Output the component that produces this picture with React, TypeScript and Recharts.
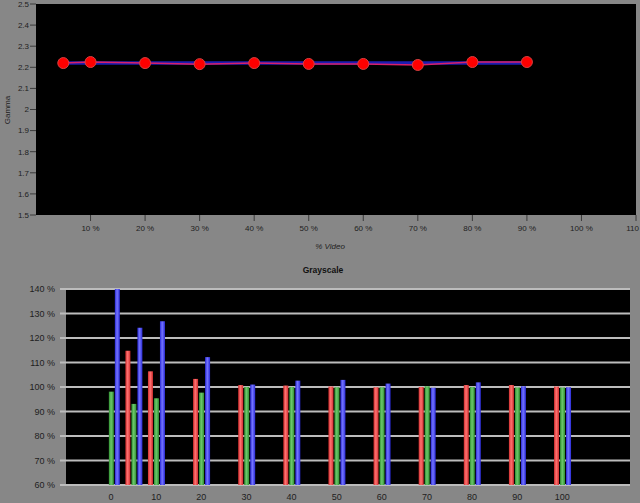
import { LineChart, Line, BarChart, Bar, XAxis, YAxis, CartesianGrid } from "recharts";

// gamma chart
const gammaX = [5, 10, 20, 30, 40, 50, 60, 70, 80, 90];
const gammaMeasured = [2.22, 2.225, 2.22, 2.215, 2.22, 2.216, 2.216, 2.211, 2.225, 2.225];
const gammaTarget = [2.22, 2.22, 2.22, 2.22, 2.22, 2.22, 2.22, 2.22, 2.22, 2.22];
const gammaTicksY = [1.5, 1.6, 1.7, 1.8, 1.9, 2, 2.1, 2.2, 2.3, 2.4, 2.5];
const videoTicks = [10, 20, 30, 40, 50, 60, 70, 80, 90, 100, 110];

// grayscale chart
const grayLevels = [0, 5, 10, 20, 30, 40, 50, 60, 70, 80, 90, 100];
const redPct = [null, 114.8, 106.4, 103.3, 100.8, 100.6, 100.2, 99.9, 100.0, 100.8, 100.8, 100.2];
const greenPct = [98.1, 93.1, 95.4, 97.7, 100.0, 100.0, 99.9, 99.9, 100.3, 100.0, 99.8, 99.8];
const bluePct = [140, 124.2, 126.8, 112.2, 101.0, 102.6, 102.9, 101.4, 99.7, 101.9, 100.3, 99.9];
const grayTicksX = [0, 10, 20, 30, 40, 50, 60, 70, 80, 90, 100];
const grayTicksY = [60, 70, 80, 90, 100, 110, 120, 130, 140];

const FONT = "'Liberation Sans', 'DejaVu Sans', sans-serif";
const BG = "#878787";

const gammaData = gammaX.map((x, i) => ({ x, measured: gammaMeasured[i], target: gammaTarget[i] }));
const grayData = grayLevels.map((x, i) => ({ x, r: redPct[i], g: greenPct[i], b: bluePct[i] }));

// last label sits on the right edge, keep it inside the page
function VideoTick(props: any) {
  const { x, y, payload } = props;
  const v = payload.value as number;
  const last = v === 110;
  return (
    <text x={last ? 639 : x} y={y} dy={8} textAnchor={last ? "end" : "middle"} fill="#1e1e1e" fontSize={8} fontFamily={FONT}>
      {last ? "110" : `${v} %`}
    </text>
  );
}

export default function App() {
  return (
    <div style={{ position: "fixed", left: 0, top: 0, width: 640, height: 503, background: BG, fontFamily: FONT, overflow: "hidden" }}>
      <div style={{ position: "absolute", left: 0, top: 0 }}>
        <LineChart width={640} height={255} data={gammaData} margin={{ top: 4, right: 4, left: 6, bottom: 0 }}>
          <CartesianGrid horizontal={false} vertical={false} fill="#000" stroke="none" />
          <XAxis
            type="number"
            dataKey="x"
            domain={[0, 110]}
            ticks={videoTicks}
            axisLine={false}
            tickLine={{ stroke: "#3a3a3a" }}
            tickSize={6}
            tickMargin={2}
            height={40}
            interval={0}
            tick={<VideoTick />}
            label={{ value: "% Video", position: "insideBottom", offset: 6, fill: "#1e1e1e", fontSize: 8, fontStyle: "italic", fontFamily: FONT, dx: -6 }}
          />
          <YAxis
            type="number"
            domain={[1.5, 2.5]}
            ticks={gammaTicksY}
            interval={0}
            width={30}
            axisLine={false}
            tickLine={{ stroke: "#3a3a3a" }}
            tickSize={6}
            tickMargin={1}
            tick={{ fill: "#1e1e1e", fontSize: 8, fontFamily: FONT }}
          />
          <Line dataKey="target" stroke="#1c1cb0" strokeWidth={3.5} dot={false} isAnimationActive={false} />
          <Line
            dataKey="measured"
            stroke="#d8206a"
            strokeWidth={1.5}
            dot={{ r: 5.5, fill: "#ff0000", stroke: "#d84040", strokeWidth: 1 }}
            isAnimationActive={false}
          />
        </LineChart>
      </div>
      <div style={{ position: "absolute", left: 6.5, top: 110, transform: "translate(-50%, -50%) rotate(-90deg)", fontSize: 8, color: "#1e1e1e" }}>
        Gamma
      </div>

      <div style={{ position: "absolute", left: 323, top: 270, transform: "translate(-50%, -50%)", fontSize: 8.5, fontWeight: "bold", color: "#111" }}>
        Grayscale
      </div>
      <div style={{ position: "absolute", left: 0, top: 260 }}>
        <BarChart width={640} height={243} data={grayData} margin={{ top: 29, right: 10, left: 0, bottom: 0 }} barSize={5} barGap={1}>
          <defs>
            <linearGradient id="gr" x1="0" y1="0" x2="1" y2="0">
              <stop offset="0" stopColor="#d02c2c" />
              <stop offset="0.45" stopColor="#ff7272" />
              <stop offset="1" stopColor="#d02c2c" />
            </linearGradient>
            <linearGradient id="gg" x1="0" y1="0" x2="1" y2="0">
              <stop offset="0" stopColor="#2f8f2f" />
              <stop offset="0.45" stopColor="#6cc86c" />
              <stop offset="1" stopColor="#2f8f2f" />
            </linearGradient>
            <linearGradient id="gb" x1="0" y1="0" x2="1" y2="0">
              <stop offset="0" stopColor="#2a2ad8" />
              <stop offset="0.45" stopColor="#7474ff" />
              <stop offset="1" stopColor="#2a2ad8" />
            </linearGradient>
          </defs>
          <CartesianGrid vertical={false} fill="#000" stroke="#bcbcbc" strokeWidth={2} />
          <XAxis
            type="number"
            dataKey="x"
            domain={[-10, 115]}
            ticks={grayTicksX}
            interval={0}
            axisLine={false}
            tickLine={false}
            tickMargin={3}
            height={18}
            tick={{ fill: "#1e1e1e", fontSize: 9, fontFamily: FONT }}
          />
          <YAxis
            type="number"
            domain={[60, 140]}
            allowDataOverflow
            ticks={grayTicksY}
            interval={0}
            width={66}
            axisLine={false}
            tickLine={{ stroke: "#bcbcbc", strokeWidth: 2 }}
            tickSize={6}
            tickMargin={5}
            tickFormatter={(v: number) => `${v} %`}
            tick={{ fill: "#1e1e1e", fontSize: 9, fontFamily: FONT }}
          />
          <Bar dataKey="r" fill="url(#gr)" isAnimationActive={false} />
          <Bar dataKey="g" fill="url(#gg)" isAnimationActive={false} />
          <Bar dataKey="b" fill="url(#gb)" isAnimationActive={false} />
        </BarChart>
      </div>
    </div>
  );
}
